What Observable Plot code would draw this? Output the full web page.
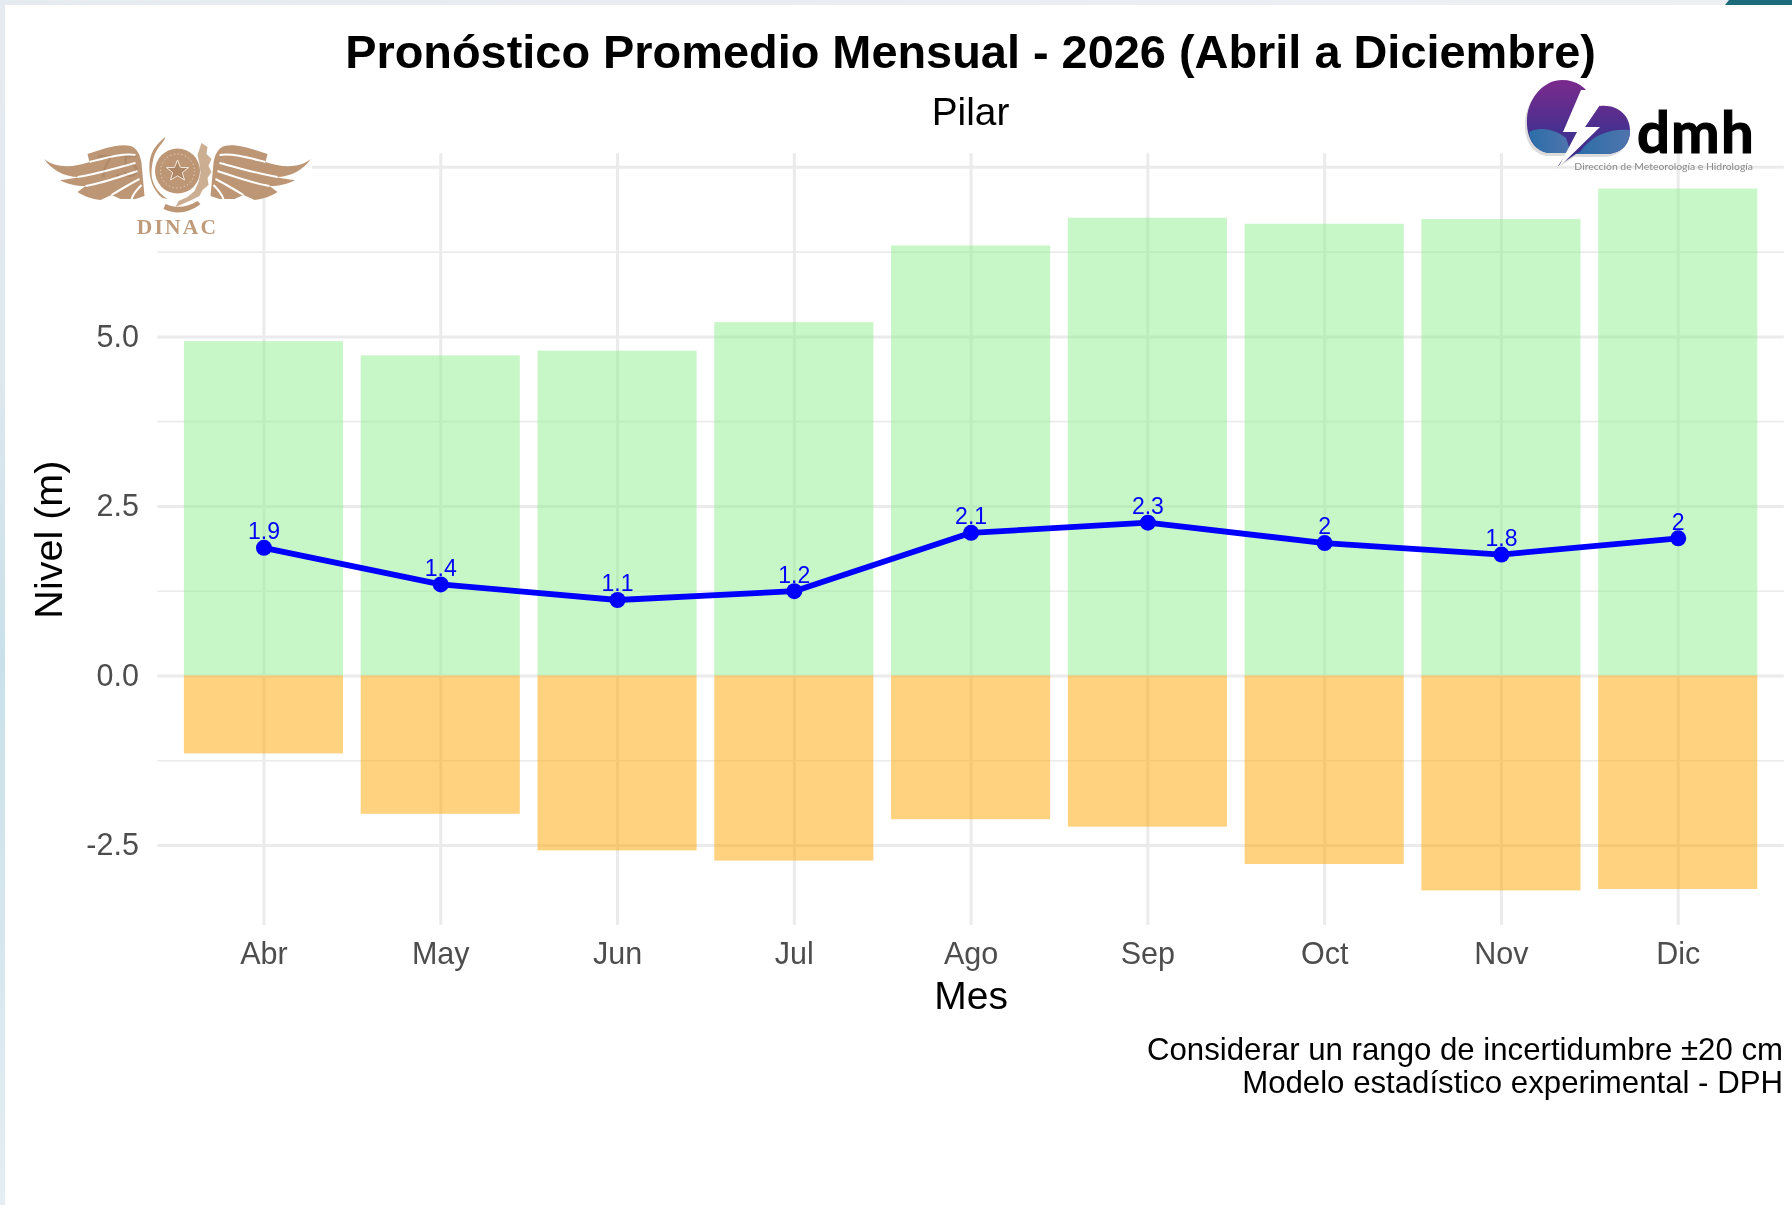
<!DOCTYPE html>
<html lang="es">
<head>
<meta charset="utf-8">
<title>Pronóstico Promedio Mensual - 2026</title>
<script src="https://cdn.jsdelivr.net/npm/d3@7"></script>
<script src="https://cdn.jsdelivr.net/npm/@observablehq/plot@0.6"></script>
<style>
  html, body { margin: 0; padding: 0; background: #fff; width: 1792px; height: 1205px; overflow: hidden; }
  body { position: relative; font-family: "Liberation Sans", Arial, sans-serif; }
  #head { position: relative; height: 124px; filter: blur(0.45px); }
  #title { position: absolute; left: 0; width: 1941px; top: 22px; margin: 0; text-align: center; font-size: 46.9px; line-height: 60px; font-weight: 700; color: #000; }
  #subtitle { position: absolute; left: 0; width: 1941px; top: 88px; text-align: center; font-size: 38.8px; line-height: 48px; color: #000; }
  #chart { position: absolute; left: 0; top: 124px; filter: blur(0.45px); }
  #chart svg { display: block; background: transparent; }
  #caption { position: absolute; right: 9px; top: 1032.5px; text-align: right; font-size: 31.2px; line-height: 33.2px; color: #000; filter: blur(0.45px); }
  #stripTop { position: absolute; left: 0; top: 0; width: 1792px; height: 5px; background: linear-gradient(90deg, #e6ebf1, #edf0f3); }
  #stripLeft { position: absolute; left: 0; top: 0; width: 5px; height: 1205px; background: linear-gradient(180deg, #e6ebf1 0%, #dfe8ef 30%, #c9e0ea 55%, #dbe9f0 85%, #e4eef3 100%); }
  #stripTeal { position: absolute; left: 1725px; top: 0; width: 67px; height: 5px; background: #1c6b7a; clip-path: polygon(4px 0, 100% 0, 100% 100%, 0 100%); }
  #logos { position: absolute; left: 0; top: 0; pointer-events: none; filter: blur(0.5px); }
</style>
</head>
<body>
<div id="head">
  <h1 id="title">Pronóstico Promedio Mensual - 2026 (Abril a Diciembre)</h1>
  <div id="subtitle">Pilar</div>
</div>
<div id="chart"></div>
<div id="caption">Considerar un rango de incertidumbre ±20 cm<br>Modelo estadístico experimental - DPH</div>
<div id="stripTop"></div><div id="stripLeft"></div><div id="stripTeal"></div>

<svg id="logos" width="1792" height="1205" viewBox="0 0 1792 1205">
  <defs>
    <linearGradient id="cloud" x1="0" y1="0" x2="0" y2="1">
      <stop offset="0" stop-color="#7b2a8c"/><stop offset="0.6" stop-color="#46308f"/><stop offset="1" stop-color="#3a2f8a"/>
    </linearGradient>
    <linearGradient id="water" x1="0" y1="0" x2="1" y2="0">
      <stop offset="0" stop-color="#2b6ea8"/><stop offset="1" stop-color="#4f74ad"/>
    </linearGradient>
    <g id="wing">
      <path d="M-133.5 -12 C-122 -3 -105 -3 -88 -9 L-90 -17 C-75 -22 -58 -28 -47 -25 C-40 -23 -37 -15 -36 -8 L-33 25 L-42 28 L-57 28 L-66 24 L-77 29 C-86 28 -94 25 -100 21 L-92 15 C-102 15 -110 13 -117.5 9 C-112 9 -98 6 -98 6 C-115 6 -126 -2 -133.5 -12 Z" fill="#b98f6b"/>
      <g fill="none" stroke="#fff" stroke-width="2">
        <path d="M-88 -9 C-72 -13 -55 -18 -42 -16"/>
        <path d="M-100 6 C-80 3 -62 -3 -42 -8"/>
        <path d="M-92 15 C-74 12 -58 6 -40 0"/>
        <path d="M-66 24 C-56 18 -46 12 -38 8"/>
        <path d="M-46 28 C-44 22 -40 18 -36 14"/>
      </g>
    </g>
  </defs>

  <!-- DINAC emblem -->
  <g opacity="0.93">
    <rect x="30" y="130" width="282" height="68" fill="#fff"/>
    <g transform="translate(177.5,171)">
      <use href="#wing"/>
      <use href="#wing" transform="scale(-1,1)"/>
      <circle r="22.5" fill="#b98f6b"/>
      <circle r="17" fill="none" stroke="#e8d6c4" stroke-width="1" stroke-dasharray="1.2 2.6"/>
      <path d="M0 -11 L3 -3.6 L11 -3.4 L4.8 1.6 L7 9 L0 4.8 L-7 9 L-4.8 1.6 L-11 -3.4 L-3 -3.6 Z" fill="#a97e5b" stroke="#f2e6da" stroke-width="1"/>
      <path d="M-28 -8 C-27 -20 -20 -28 -12 -34 C-14 -28 -20 -24 -23 -16 C-25 -10 -26 -4 -26 2 C-26 12 -20 22 -10 28 L-15 27 C-24 20 -29 8 -28 -8 Z" fill="#b98f6b"/>
      <path d="M24 -28 l6 4 l-1 7 l5 5 l-3 7 l3 6 l-4 6 l1 7 l-6 5 l-3 6 l-8 4 l-9 4 l-7 3 l3 -6 l9 -4 l7 -6 l4 -9 l2 -9 l-1 -9 l-2 -9 Z" fill="#c9a98a"/>
      <path d="M-12 33 C0 38 10 36 20 30 L23 33 C12 42 -2 44 -14 38 Z" fill="#b98f6b"/>
    </g>
  </g>
  <text x="177.5" y="233.5" text-anchor="middle" font-family="Liberation Serif" font-weight="700" font-size="21.5" letter-spacing="2.2" fill="#bf9b7c">DINAC</text>

  <!-- dmh logo -->
  <path d="M1558 166 L1567 153 L1548 153 C1534 150 1526 138 1527 118 C1529 96 1545 80 1562 80 C1577 80 1587 88 1590 97 L1600 106 C1618 104 1630 116 1630 130 C1630 146 1620 154 1604 154 L1576 154 Z" fill="#b9b9b9" transform="translate(-2,3)" opacity="0.5"/>
  <path d="M1558 166 L1567 153 L1548 153 C1534 150 1526 138 1527 118 C1529 96 1545 80 1562 80 C1577 80 1587 88 1590 97 L1600 106 C1618 104 1630 116 1630 130 C1630 146 1620 154 1604 154 L1576 154 Z" fill="url(#cloud)"/>
  <path d="M1529 132 C1542 126 1556 130 1566 138 L1570 150 L1560 165 L1567 153 L1548 153 C1536 151 1530 142 1529 132 Z" fill="url(#water)"/>
  <path d="M1580 152 C1592 134 1612 128 1630 130 C1630 146 1620 154 1604 154 L1576 154 Z" fill="url(#water)"/>
  <path d="M1581 90 L1563 132 L1577 132 L1558 168 L1600 127 L1585 127 L1600 105 L1591 90 Z" fill="#fff"/>
  <text x="1637" y="152.5" font-family="Lato, Inter, sans-serif" font-weight="700" font-size="58" letter-spacing="1.2" fill="#000" stroke="#000" stroke-width="1.2">dmh</text>
  <text x="1753" y="170" text-anchor="end" font-family="Lato, sans-serif" font-size="10.4" fill="#8a8a8a">Dirección de Meteorología e Hidrología</text>
</svg>

<script>
const meses = ["Abr", "May", "Jun", "Jul", "Ago", "Sep", "Oct", "Nov", "Dic"];
const techo = [4.93, 4.72, 4.79, 5.21, 6.34, 6.75, 6.66, 6.73, 7.18];
const piso = [-1.15, -2.04, -2.58, -2.73, -2.12, -2.23, -2.78, -3.17, -3.15];
const nivel = [1.89, 1.35, 1.12, 1.25, 2.11, 2.26, 1.96, 1.79, 2.03];
const etiquetas = ["1.9", "1.4", "1.1", "1.2", "2.1", "2.3", "2", "1.8", "2"];
const ticksMayores = [-2.5, 0, 2.5, 5, 7.5];
const ticksMenores = [-1.25, 1.25, 3.75, 6.25];

const filas = meses.map((mes, i) => ({mes, techo: techo[i], piso: piso[i], nivel: nivel[i], etiqueta: etiquetas[i]}));
const rejilla = "#ebebeb";
const gris = "#4d4d4d";

const chart = Plot.plot({
  width: 1792,
  height: 896,
  marginTop: 29.3,
  marginBottom: 95,
  marginLeft: 157.4,
  marginRight: 8.2,
  style: {fontFamily: "Liberation Sans, Arial, sans-serif", background: "transparent", overflow: "visible"},
  x: {domain: meses, paddingInner: 0.1, paddingOuter: 0.15, round: false, label: null},
  y: {domain: [-3.68, 7.70], label: null},
  marks: [
    Plot.ruleY(ticksMenores, {stroke: rejilla, strokeWidth: 1.6}),
    Plot.ruleY(ticksMayores, {stroke: rejilla, strokeWidth: 3}),
    Plot.ruleX(meses, {stroke: rejilla, strokeWidth: 3}),
    Plot.barY(filas, {x: "mes", y1: 0, y2: "techo", fill: "#90ee90", fillOpacity: 0.5}),
    Plot.barY(filas, {x: "mes", y1: 0, y2: "piso", fill: "#ffa500", fillOpacity: 0.5}),
    Plot.line(filas, {x: "mes", y: "nivel", stroke: "#0000ff", strokeWidth: 5.8, curve: "linear"}),
    Plot.dot(filas, {x: "mes", y: "nivel", r: 8, fill: "#0000ff"}),
    Plot.text(filas, {x: "mes", y: "nivel", text: "etiqueta", dy: -16, fill: "#0000ff", fontSize: 23}),
    Plot.axisX({tickSize: 0, tickPadding: 17, fontSize: 30.5, color: gris, label: null}),
    Plot.axisY({ticks: ticksMayores, tickFormat: d => d.toFixed(1), tickSize: 0, tickPadding: 19, fontSize: 30.5, color: gris, label: null}),
    Plot.text(["Mes"], {frameAnchor: "bottom", dy: 83, fontSize: 39, fill: "#000"}),
    Plot.text(["Nivel (m)"], {frameAnchor: "left", textAnchor: "middle", dx: -109, rotate: -90, fontSize: 39.5, fill: "#000"})
  ]
});
document.getElementById("chart").append(chart);
</script>
</body>
</html>
